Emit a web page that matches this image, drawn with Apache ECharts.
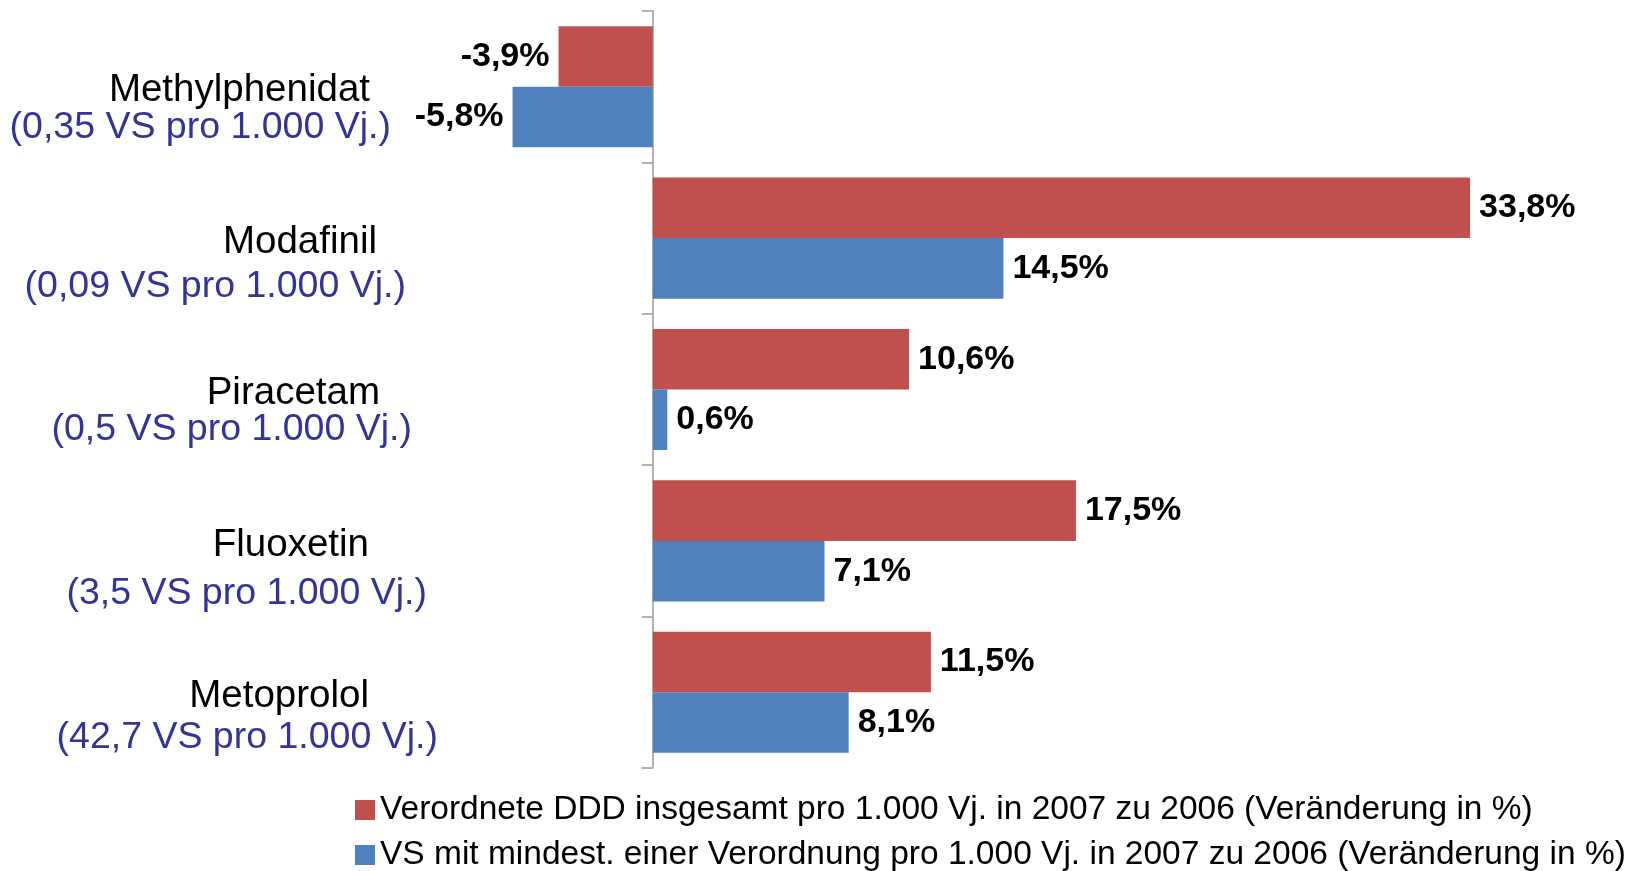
<!DOCTYPE html>
<html>
<head>
<meta charset="utf-8">
<script src="https://cdn.jsdelivr.net/npm/echarts@6/dist/echarts.min.js"></script>
<style>
html,body{margin:0;padding:0;background:#fff;}
#chart{width:1631px;height:871px;}
</style>
</head>
<body>
<div id="chart"></div>
<script>
var drugs = ['Methylphenidat', 'Modafinil', 'Piracetam', 'Fluoxetin', 'Metoprolol'];
var subLabels = ['(0,35 VS pro 1.000 Vj.)', '(0,09 VS pro 1.000 Vj.)', '(0,5 VS pro 1.000 Vj.)', '(3,5 VS pro 1.000 Vj.)', '(42,7 VS pro 1.000 Vj.)'];
var seriesNames = [
  'Verordnete DDD insgesamt pro 1.000 Vj. in 2007 zu 2006 (Veränderung in %)',
  'VS mit mindest. einer Verordnung pro 1.000 Vj. in 2007 zu 2006 (Veränderung in %)'
];
var dddValues = [-3.9, 33.8, 10.6, 17.5, 11.5];
var vsValues = [-5.8, 14.5, 0.6, 7.1, 8.1];

var FONT = '"Liberation Sans", Arial, sans-serif';

// per-category label layout (reference places each two-line label slightly differently)
var nameRightPad = [68, 61, 58, 69, 69];
var subRightPad = [47, 32, 26, 11, 0];
var subLineHeight = [33, 49, 33, 58, 43];

function fmtPct(v) {
  return v.toFixed(1).replace('.', ',') + '%';
}
function toData(arr) {
  return arr.map(function (v) {
    return { value: v, label: { position: v < 0 ? 'left' : 'right' } };
  });
}

var rich = {};
for (var i = 0; i < drugs.length; i++) {
  rich['s' + i] = { fontSize: 10, lineHeight: subLineHeight[i] + 8 };
  rich['a' + i] = { fontFamily: FONT, fontSize: 38.5, color: '#000000', lineHeight: 40, padding: [0, nameRightPad[i], 0, 0] };
  rich['b' + i] = { fontFamily: FONT, fontSize: 37.5, color: '#333399', lineHeight: subLineHeight[i], padding: [0, subRightPad[i], 0, 0] };
}

var labelStyle = {
  show: true,
  distance: 9,
  fontFamily: FONT,
  fontWeight: 'bold',
  fontSize: 34,
  color: '#000000',
  formatter: function (p) { return fmtPct(p.value); }
};

function legendOf(idx, top) {
  return {
    orient: 'horizontal',
    left: 355,
    top: top,
    padding: 0,
    itemWidth: 20,
    itemHeight: 20,
    icon: 'rect',
    textStyle: { fontFamily: FONT, fontSize: 33.5, color: '#000000', lineHeight: 34 },
    data: [seriesNames[idx]]
  };
}

var chart = echarts.init(document.getElementById('chart'), null, { renderer: 'canvas' });
chart.setOption({
  animation: false,
  backgroundColor: '#ffffff',
  color: ['#C0504D', '#4F81BD'],
  grid: { left: 411, right: 11, top: 11, bottom: 103, containLabel: false, outerBoundsMode: 'none' },
  xAxis: {
    type: 'value',
    min: -10,
    max: 40,
    show: false,
    splitLine: { show: false }
  },
  yAxis: {
    type: 'category',
    data: drugs,
    inverse: true,
    axisLine: { show: true, onZero: true, lineStyle: { color: '#9a9a9a', width: 1.5 } },
    axisTick: { show: true, length: 11, lineStyle: { color: '#9a9a9a', width: 1.5 } },
    axisLabel: {
      margin: -27,
      align: 'right',
      fontFamily: FONT,
      formatter: function (val, idx) {
        return '{s' + idx + '| }\n{a' + idx + '|' + val + '}\n{b' + idx + '|' + subLabels[idx] + '}';
      },
      rich: rich
    }
  },
  legend: [legendOf(0, 793), legendOf(1, 838)],
  series: [
    {
      name: seriesNames[0],
      type: 'bar',
      barGap: '0%',
      barCategoryGap: '20%',
      data: toData(dddValues),
      label: labelStyle
    },
    {
      name: seriesNames[1],
      type: 'bar',
      barGap: '0%',
      barCategoryGap: '20%',
      data: toData(vsValues),
      label: labelStyle
    }
  ]
});
</script>
</body>
</html>
